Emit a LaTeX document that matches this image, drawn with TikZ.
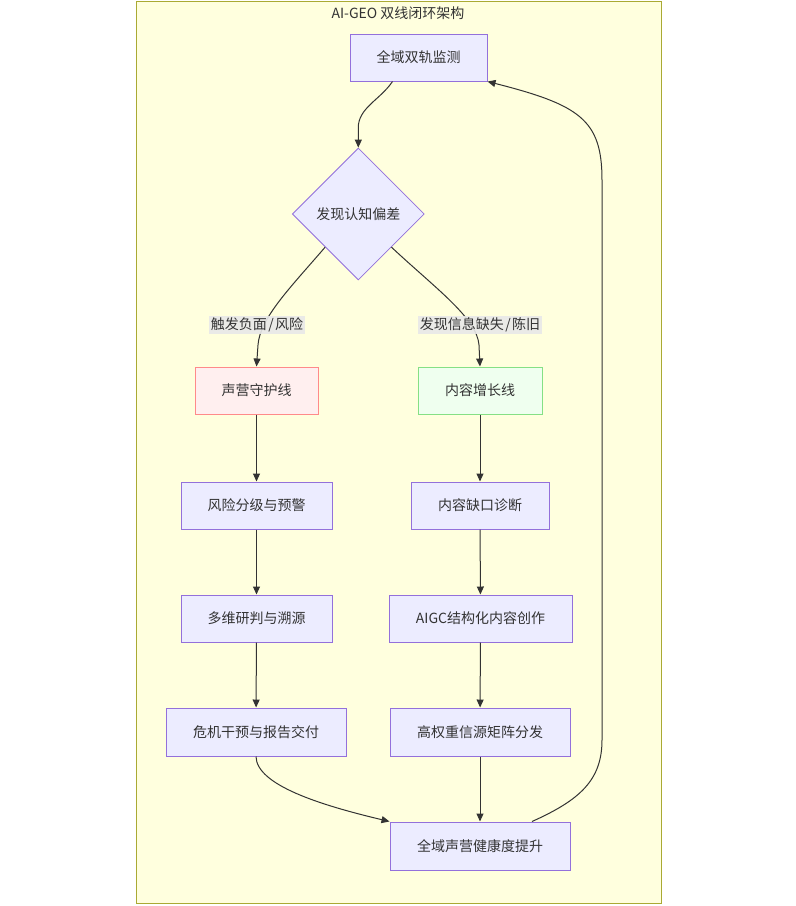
\documentclass[tikz,border=0pt]{standalone}
\usepackage{fontspec}
\setmainfont{Noto Sans CJK SC}
\usetikzlibrary{shapes.geometric,arrows.meta}
\definecolor{clfill}{HTML}{FFFFDE}
\definecolor{cldraw}{HTML}{AAAA33}
\definecolor{nfill}{HTML}{ECECFF}
\definecolor{ndraw}{HTML}{9370DB}
\definecolor{pfill}{HTML}{FFEFEF}
\definecolor{pdraw}{HTML}{FF8A8A}
\definecolor{gfill}{HTML}{EFFFEF}
\definecolor{gdraw}{HTML}{85E085}
\definecolor{txt}{HTML}{333333}
\definecolor{lblbg}{HTML}{E8E8E8}
\newcommand{\sepslash}{\hspace{1.5pt}/\hspace{1.5pt}}
\tikzset{
  box/.style={draw=ndraw, fill=nfill, line width=1pt, inner sep=0pt, minimum height=47pt, text=txt, font=\fontsize{14}{17}\selectfont},
  pinkbox/.style={box, draw=pdraw, fill=pfill},
  greenbox/.style={box, draw=gdraw, fill=gfill},
  decide/.style={diamond, draw=ndraw, fill=nfill, line width=0.8pt, inner sep=0pt, minimum width=132pt, minimum height=132pt, text=txt, font=\fontsize{14}{17}\selectfont},
  arr/.style={draw=txt, line width=1pt, -{Triangle[length=8pt,width=7pt]}},
  elabel/.style={fill=lblbg, fill opacity=0.9, text opacity=1, inner sep=1.5pt, text=txt, font=\fontsize{14}{17}\selectfont},
}
\begin{document}
\begin{tikzpicture}[x=1pt,y=-1pt]
\useasboundingbox (0,0) rectangle (796,906);
\fill[white] (0,0) rectangle (796,906);
\draw[cldraw, fill=clfill, line width=1pt] (136,1) rectangle (661,903);
\node[text=txt, font=\fontsize{14}{17}\selectfont] (title) at (398,13) {AI-GEO 双线闭环架构};

\node[box, minimum width=137pt] (mon) at (418.5,57.5) {全域双轨监测};
\node[decide] (dia) at (358.3,214) {发现认知偏差};
\node[pinkbox, minimum width=123pt] (guard) at (256.5,390.5) {声营守护线};
\node[greenbox, minimum width=124pt] (grow) at (480,390.5) {内容增长线};
\node[box, minimum width=151pt] (a1) at (256.5,505.5) {风险分级与预警};
\node[box, minimum width=138pt] (b1) at (480,505.5) {内容缺口诊断};
\node[box, minimum width=151pt] (a2) at (256.5,618.5) {多维研判与溯源};
\node[box, minimum width=183pt] (b2) at (480.5,618.5) {AIGC结构化内容创作};
\node[box, minimum width=180pt, minimum height=48pt] (a3) at (256,732) {危机干预与报告交付};
\node[box, minimum width=180pt, minimum height=48pt] (b3) at (480,732) {高权重信源矩阵分发};
\node[box, minimum width=180pt, minimum height=48pt] (fin) at (480,846) {全域声营健康度提升};

\draw[arr] ([xshift=-26pt]mon.south) .. controls (380,100) and (358,108) .. (358.3,128) -- (dia.north);
\draw[arr] (dia.south west) .. controls (290,288) and (260,318) .. (258,345) -- (guard.north);
\draw[arr] (dia.south east) .. controls (435,288) and (477,318) .. (479,345) -- (grow.north);
\draw[arr] (guard) -- (a1);
\draw[arr] (a1) -- (a2);
\draw[arr] (a2) -- (a3);
\draw[arr] (grow) -- (b1);
\draw[arr] (b1) -- (b2);
\draw[arr] (b2) -- (b3);
\draw[arr] (b3) -- (fin);
\draw[arr] (a3.south) .. controls (256.5,785) and (320,805) .. (fin.north west);
\draw[arr] ([xshift=52pt]fin.north) .. controls (580,800) and (602,780) .. (602,740) -- (602,180) .. controls (602,120) and (580,105) .. (mon.south east);

\node[elabel] (l1) at (257,325) {触发负面\sepslash 风险};
\node[elabel] (l2) at (480,325) {发现信息缺失\sepslash 陈旧};
\end{tikzpicture}
\end{document}
